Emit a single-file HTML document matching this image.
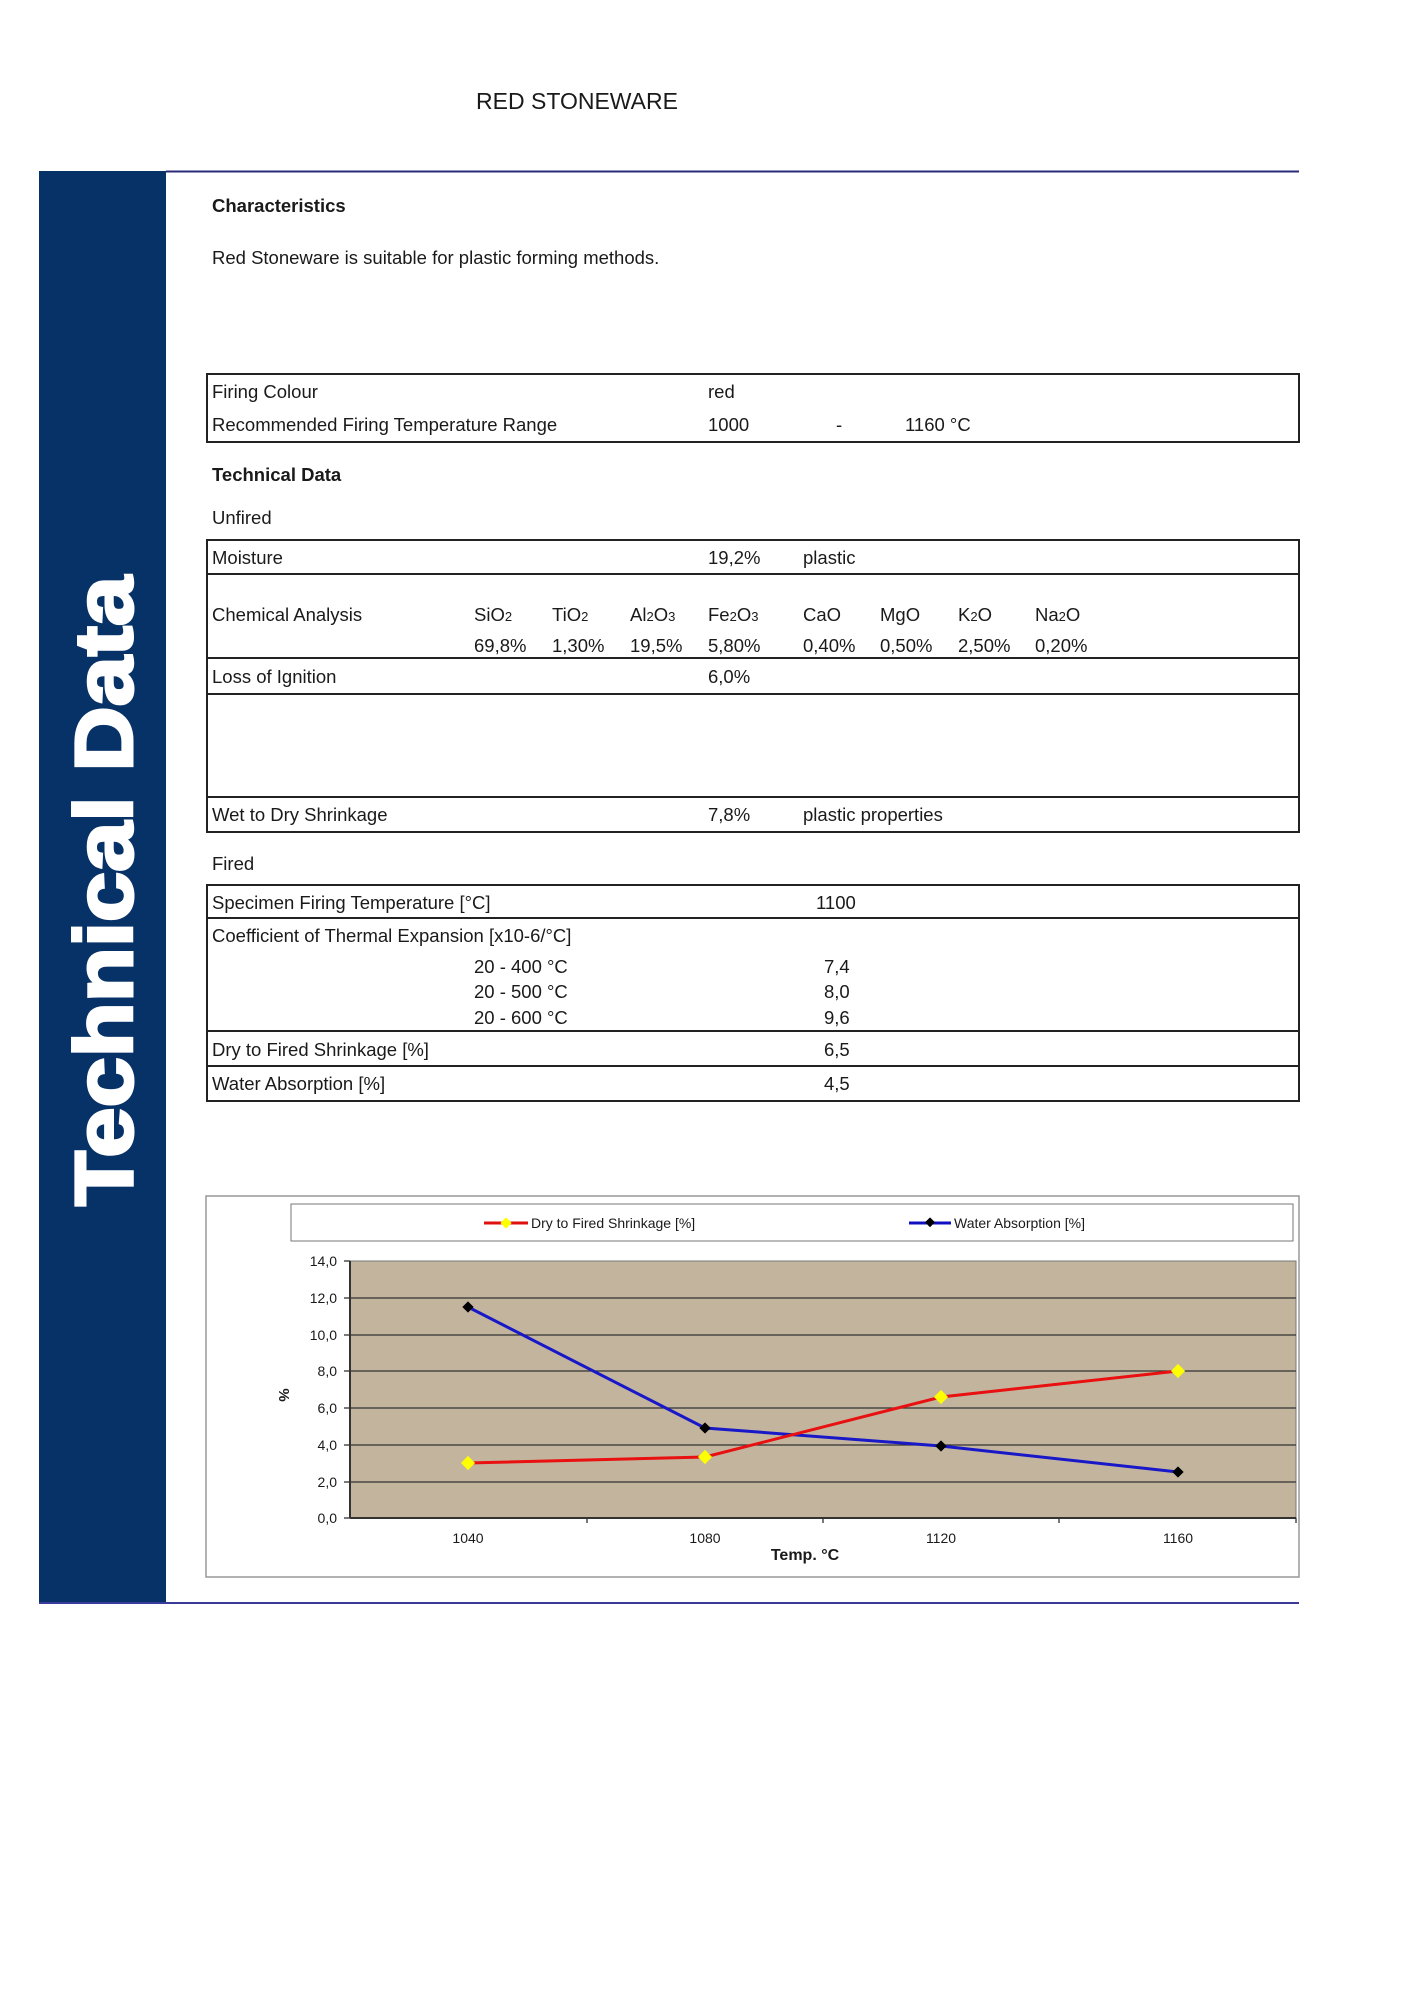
<!DOCTYPE html>
<html><head><meta charset="utf-8"><style>
html,body{margin:0;padding:0;background:#fff;}
svg{display:block;}
text{font-family:"Liberation Sans",Arial,sans-serif;fill:#1a1a1a;}
</style></head><body>
<svg width="1414" height="2000" viewBox="0 0 1414 2000" xmlns="http://www.w3.org/2000/svg">
<text x="577" y="109" font-size="23" text-anchor="middle">RED STONEWARE</text>
<rect x="39" y="171" width="127" height="1432" fill="#073268"/>
<line x1="166" y1="171.5" x2="1299" y2="171.5" stroke="#2a2a7a" stroke-width="2"/>
<line x1="39" y1="1603" x2="1299" y2="1603" stroke="#3a3a9a" stroke-width="2"/>
<text transform="translate(132,1206) rotate(-90)" font-size="82" font-weight="bold" textLength="630" lengthAdjust="spacingAndGlyphs" style="fill:#fff;stroke:#fff;stroke-width:3">Technical Data</text>

<g font-size="18.5">
<text x="212" y="212" font-weight="bold">Characteristics</text>
<text x="212" y="264">Red Stoneware is suitable for plastic forming methods.</text>

<rect x="207" y="374" width="1092" height="68" fill="none" stroke="#222" stroke-width="2"/>
<text x="212" y="398">Firing Colour</text>
<text x="708" y="398">red</text>
<text x="212" y="431">Recommended Firing Temperature Range</text>
<text x="708" y="431">1000</text>
<text x="836" y="431">-</text>
<text x="905" y="431">1160 °C</text>

<text x="212" y="481" font-weight="bold">Technical Data</text>
<text x="212" y="524">Unfired</text>

<rect x="207" y="540" width="1092" height="292" fill="none" stroke="#222" stroke-width="2"/>
<line x1="207" y1="574" x2="1299" y2="574" stroke="#222" stroke-width="2"/>
<line x1="207" y1="658" x2="1299" y2="658" stroke="#222" stroke-width="2"/>
<line x1="207" y1="694" x2="1299" y2="694" stroke="#222" stroke-width="2"/>
<line x1="207" y1="797" x2="1299" y2="797" stroke="#222" stroke-width="2"/>
<text x="212" y="564">Moisture</text>
<text x="708" y="564">19,2%</text>
<text x="803" y="564">plastic</text>
<text x="212" y="621">Chemical Analysis</text>
<g>
<text x="474" y="621">SiO<tspan font-size="13">2</tspan></text>
<text x="552" y="621">TiO<tspan font-size="13">2</tspan></text>
<text x="630" y="621">Al<tspan font-size="13">2</tspan>O<tspan font-size="13">3</tspan></text>
<text x="708" y="621">Fe<tspan font-size="13">2</tspan>O<tspan font-size="13">3</tspan></text>
<text x="803" y="621">CaO</text>
<text x="880" y="621">MgO</text>
<text x="958" y="621">K<tspan font-size="13">2</tspan>O</text>
<text x="1035" y="621">Na<tspan font-size="13">2</tspan>O</text>
<text x="474" y="652">69,8%</text>
<text x="552" y="652">1,30%</text>
<text x="630" y="652">19,5%</text>
<text x="708" y="652">5,80%</text>
<text x="803" y="652">0,40%</text>
<text x="880" y="652">0,50%</text>
<text x="958" y="652">2,50%</text>
<text x="1035" y="652">0,20%</text>
</g>
<text x="212" y="683">Loss of Ignition</text>
<text x="708" y="683">6,0%</text>
<text x="212" y="821">Wet to Dry Shrinkage</text>
<text x="708" y="821">7,8%</text>
<text x="803" y="821">plastic properties</text>

<text x="212" y="870">Fired</text>
<rect x="207" y="885" width="1092" height="216" fill="none" stroke="#222" stroke-width="2"/>
<line x1="207" y1="918" x2="1299" y2="918" stroke="#222" stroke-width="2"/>
<line x1="207" y1="1031" x2="1299" y2="1031" stroke="#222" stroke-width="2"/>
<line x1="207" y1="1066" x2="1299" y2="1066" stroke="#222" stroke-width="2"/>
<text x="212" y="909">Specimen Firing Temperature [°C]</text>
<text x="816" y="909">1100</text>
<text x="212" y="942">Coefficient of Thermal Expansion [x10-6/°C]</text>
<text x="474" y="973">20 - 400 °C</text><text x="824" y="973">7,4</text>
<text x="474" y="998">20 - 500 °C</text><text x="824" y="998">8,0</text>
<text x="474" y="1024">20 - 600 °C</text><text x="824" y="1024">9,6</text>
<text x="212" y="1056">Dry to Fired Shrinkage [%]</text>
<text x="824" y="1056">6,5</text>
<text x="212" y="1090">Water Absorption [%]</text>
<text x="824" y="1090">4,5</text>
</g>

<rect x="206" y="1196" width="1093" height="381" fill="#fff" stroke="#999" stroke-width="1.5"/>
<rect x="291" y="1204" width="1002" height="37" fill="#fff" stroke="#777" stroke-width="1"/>
<line x1="484" y1="1223" x2="528" y2="1223" stroke="#e01010" stroke-width="3"/>
<rect x="502" y="1219" width="8" height="8" fill="#ffff00" transform="rotate(45 506 1223)"/>
<text x="531" y="1228" font-size="14">Dry to Fired Shrinkage [%]</text>
<line x1="909" y1="1223" x2="951" y2="1223" stroke="#1010c0" stroke-width="3"/>
<rect x="926" y="1219" width="7" height="7" fill="#000" transform="rotate(45 930 1223)"/>
<text x="954" y="1228" font-size="14">Water Absorption [%]</text>

<rect x="350" y="1261" width="946" height="257" fill="#c3b59d" stroke="#777" stroke-width="1"/>
<g stroke="#333" stroke-width="1.3">
<line x1="350" y1="1298" x2="1296" y2="1298"/>
<line x1="350" y1="1335" x2="1296" y2="1335"/>
<line x1="350" y1="1371" x2="1296" y2="1371"/>
<line x1="350" y1="1408" x2="1296" y2="1408"/>
<line x1="350" y1="1445" x2="1296" y2="1445"/>
<line x1="350" y1="1482" x2="1296" y2="1482"/>
<line x1="350" y1="1518" x2="1296" y2="1518" stroke-width="2"/>
<line x1="350" y1="1261" x2="350" y2="1518" stroke-width="2"/>
<line x1="344" y1="1261" x2="350" y2="1261"/><line x1="344" y1="1298" x2="350" y2="1298"/>
<line x1="344" y1="1335" x2="350" y2="1335"/><line x1="344" y1="1371" x2="350" y2="1371"/>
<line x1="344" y1="1408" x2="350" y2="1408"/><line x1="344" y1="1445" x2="350" y2="1445"/>
<line x1="344" y1="1482" x2="350" y2="1482"/><line x1="344" y1="1518" x2="350" y2="1518"/>
<line x1="587" y1="1518" x2="587" y2="1523"/><line x1="823" y1="1518" x2="823" y2="1523"/>
<line x1="1059" y1="1518" x2="1059" y2="1523"/><line x1="1296" y1="1518" x2="1296" y2="1523"/>
</g>
<g font-size="14" text-anchor="end" style="fill:#333">
<text x="337" y="1266">14,0</text><text x="337" y="1303">12,0</text>
<text x="337" y="1340">10,0</text><text x="337" y="1376">8,0</text>
<text x="337" y="1413">6,0</text><text x="337" y="1450">4,0</text>
<text x="337" y="1487">2,0</text><text x="337" y="1523">0,0</text>
</g>
<g font-size="14" text-anchor="middle">
<text x="468" y="1543">1040</text><text x="705" y="1543">1080</text>
<text x="941" y="1543">1120</text><text x="1178" y="1543">1160</text>
</g>
<text x="805" y="1560" font-size="16" font-weight="bold" text-anchor="middle">Temp. °C</text>
<text transform="translate(279,1395) rotate(90)" font-size="15" font-weight="bold" text-anchor="middle">%</text>

<polyline points="468,1307 705,1428 941,1446 1178,1472" fill="none" stroke="#1818c8" stroke-width="3"/>
<polyline points="468,1463 705,1457 941,1397 1178,1371" fill="none" stroke="#e81010" stroke-width="3"/>
<g fill="#000">
<rect x="464" y="1303" width="8" height="8" transform="rotate(45 468 1307)"/>
<rect x="701" y="1424" width="8" height="8" transform="rotate(45 705 1428)"/>
<rect x="937" y="1442" width="8" height="8" transform="rotate(45 941 1446)"/>
<rect x="1174" y="1468" width="8" height="8" transform="rotate(45 1178 1472)"/>
</g>
<g fill="#ffff00">
<rect x="463" y="1458" width="10" height="10" transform="rotate(45 468 1463)"/>
<rect x="700" y="1452" width="10" height="10" transform="rotate(45 705 1457)"/>
<rect x="936" y="1392" width="10" height="10" transform="rotate(45 941 1397)"/>
<rect x="1173" y="1366" width="10" height="10" transform="rotate(45 1178 1371)"/>
</g>
</svg>
</body></html>
